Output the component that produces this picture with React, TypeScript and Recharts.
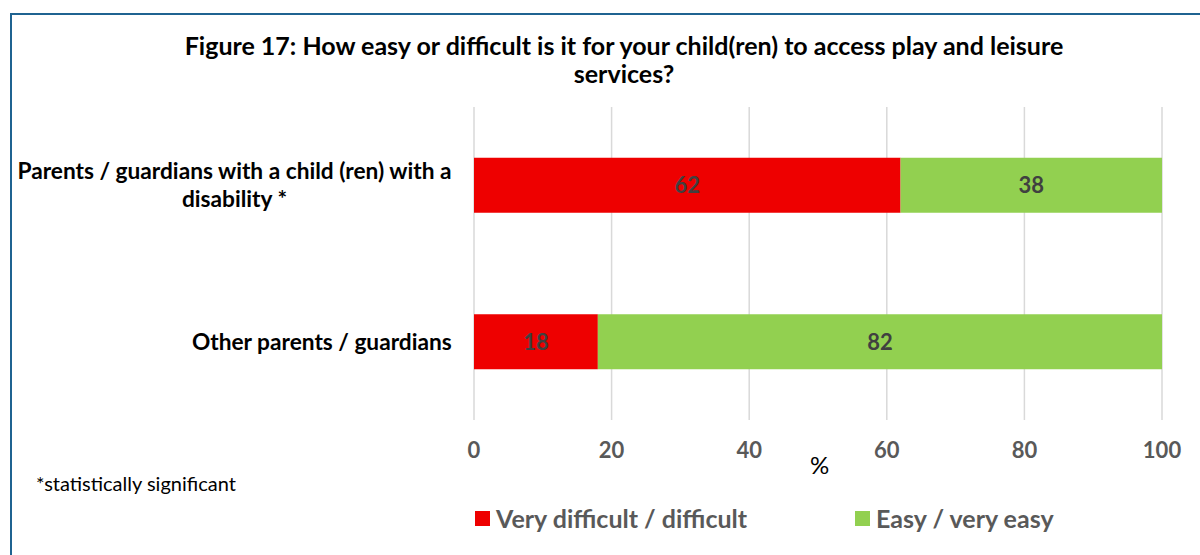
import { Bar, BarChart, CartesianGrid, LabelList, Legend, XAxis, YAxis } from 'recharts';

const categories = ['Parents / guardians with a child (ren) with a disability *', 'Other parents / guardians'];
const difficultValues = [62, 18];
const easyValues = [38, 82];
const xTicks = [0, 20, 40, 60, 80, 100];

const seriesNames = ['Very difficult / difficult', 'Easy / very easy'];
const seriesColors = ['#EE0000', '#92D050'];

const FONT = 'Lato, Carlito, Calibri, sans-serif';

const data = categories.map((name, i) => ({
  name,
  difficult: difficultValues[i],
  easy: easyValues[i],
}));

let measureCtx: CanvasRenderingContext2D | null = null;
const measure = (text: string, font: string): number => {
  if (!measureCtx) measureCtx = document.createElement('canvas').getContext('2d');
  if (!measureCtx) return text.length * 11;
  measureCtx.font = font;
  return measureCtx.measureText(text).width;
};

const wrap = (text: string, maxWidth: number, font: string): string[] => {
  const words = text.split(' ');
  const lines: string[] = [];
  let current = '';
  words.forEach((word) => {
    const next = current ? `${current} ${word}` : word;
    if (current && measure(next, font) > maxWidth) {
      lines.push(current);
      current = word;
    } else {
      current = next;
    }
  });
  if (current) lines.push(current);
  return lines;
};

const CategoryTick = (props: any) => {
  const { y, payload } = props;
  const font = `bold 22.7px ${FONT}`;
  const lines = wrap(payload.value, 445, font);
  const blockWidth = Math.max(...lines.map((line) => measure(line, font)));
  const right = 452;
  const center = right - blockWidth / 2;
  const lineHeight = 28;
  const startY = y - ((lines.length - 1) * lineHeight) / 2;
  return (
    <g>
      {lines.map((line, i) => (
        <text
          key={line}
          x={center}
          y={startY + i * lineHeight}
          dy="0.35em"
          textAnchor="middle"
          fill="#000000"
          fontSize={22.7}
          fontWeight="bold"
          fontFamily={FONT}
        >
          {line}
        </text>
      ))}
    </g>
  );
};

const ValueTick = (props: any) => {
  const { x, payload } = props;
  return (
    <text x={x} y={450} dy="0.35em" textAnchor="middle" fill="#595959" fontSize={22} fontWeight="bold" fontFamily={FONT}>
      {payload.value}
    </text>
  );
};

const LegendContent = () => (
  <div style={{ position: 'relative', width: 1200, height: 30, fontFamily: FONT }}>
    {seriesNames.map((name, i) => (
      <div
        key={name}
        style={{
          position: 'absolute',
          left: i === 0 ? 475 : 855,
          top: 0,
          display: 'flex',
          alignItems: 'center',
          height: 30,
        }}
      >
        <span style={{ display: 'inline-block', width: 15, height: 15, background: seriesColors[i], marginRight: 6 }} />
        <span style={{ fontSize: 25, fontWeight: 'bold', color: '#595959' }}>{name}</span>
      </div>
    ))}
  </div>
);

export default function App() {
  return (
    <div
      style={{
        position: 'fixed',
        left: 0,
        top: 0,
        width: 1200,
        height: 555,
        background: '#ffffff',
        fontFamily: FONT,
        overflow: 'hidden',
      }}
    >
      <div
        style={{
          position: 'absolute',
          left: 10,
          top: 13,
          width: 1250,
          height: 600,
          borderLeft: '2px solid #1F6391',
          borderTop: '2px solid #1F6391',
          boxSizing: 'border-box',
        }}
      />
      <div style={{ position: 'absolute', left: 0, top: 0 }}>
        <BarChart
          width={1200}
          height={555}
          data={data}
          layout="vertical"
          margin={{ top: 107, right: 38, bottom: 75, left: 0 }}
          barCategoryGap="32.5%"
        >
          <CartesianGrid horizontal={false} stroke="#D9D9D9" strokeWidth={1.5} />
          <XAxis
            type="number"
            domain={[0, 100]}
            ticks={xTicks}
            axisLine={false}
            tickLine={false}
            height={30}
            tick={<ValueTick />}
            interval={0}
          />
          <YAxis
            type="category"
            dataKey="name"
            width={474}
            axisLine={false}
            tickLine={false}
            tick={<CategoryTick />}
            interval={0}
          />
          <Legend
            content={<LegendContent />}
            wrapperStyle={{ position: 'absolute', left: 0, top: 503, width: 1200 }}
          />
          <Bar dataKey="difficult" name={seriesNames[0]} stackId="a" fill={seriesColors[0]} isAnimationActive={false}>
            <LabelList dataKey="difficult" position="center" fill="#404040" fontSize={22} fontWeight="bold" fontFamily={FONT} />
          </Bar>
          <Bar dataKey="easy" name={seriesNames[1]} stackId="a" fill={seriesColors[1]} isAnimationActive={false}>
            <LabelList dataKey="easy" position="center" fill="#404040" fontSize={22} fontWeight="bold" fontFamily={FONT} />
          </Bar>
        </BarChart>
      </div>
      <div
        style={{
          position: 'absolute',
          left: 0,
          width: 1248,
          top: 31,
          textAlign: 'center',
          fontSize: 25,
          fontWeight: 'bold',
          lineHeight: '28px',
          color: '#000000',
        }}
      >
        Figure 17: How easy or difficult is it for your child(ren) to access play and leisure
        <br />
        services?
      </div>
      <div style={{ position: 'absolute', left: 810, top: 450, fontSize: 24, color: '#000000' }}>%</div>
      <div style={{ position: 'absolute', left: 36, top: 471, fontSize: 20, color: '#000000' }}>
        *statistically significant
      </div>
    </div>
  );
}
